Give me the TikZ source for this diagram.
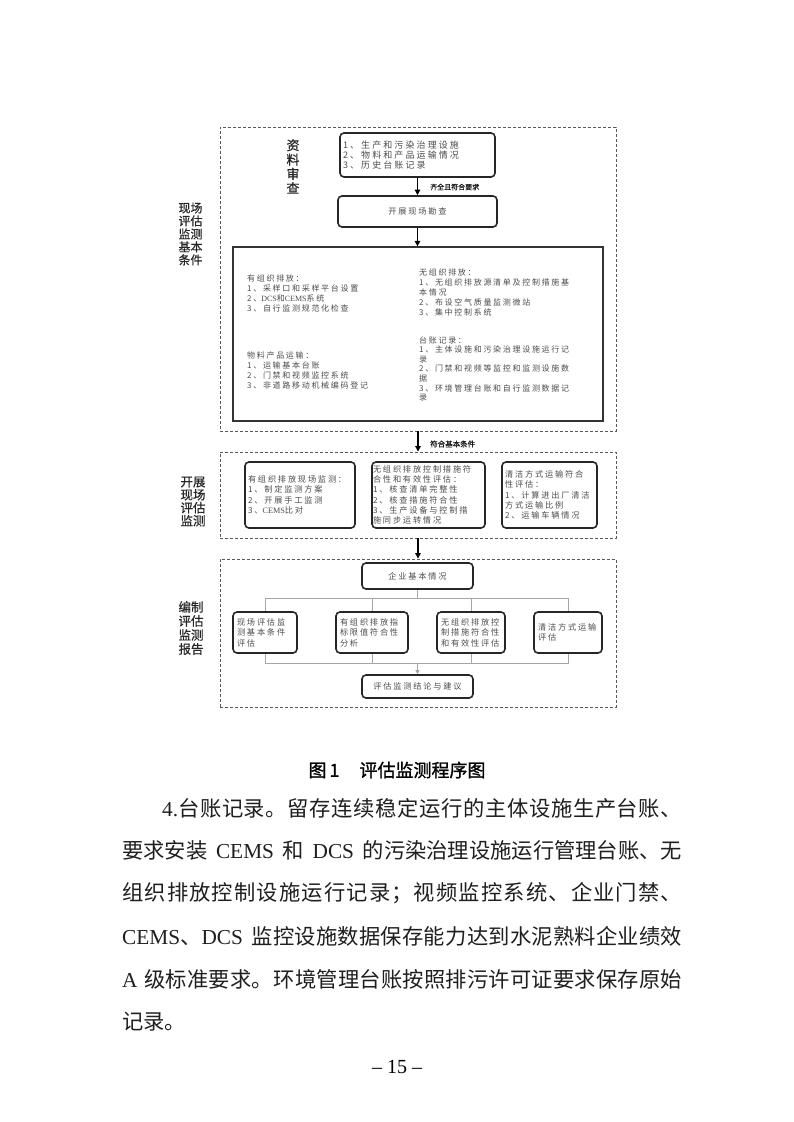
\documentclass[tikz,border=0pt]{standalone}
\usepackage{fontspec}
\setmainfont{Noto Sans CJK SC}
\newfontfamily\lat{Liberation Serif}
\newfontfamily\capfont[FakeBold=1.2]{Noto Sans CJK SC}
\newfontfamily\semib[FakeBold=0.6]{Noto Sans CJK SC}
\newfontfamily\lightb[FakeBold=0.25]{Noto Sans CJK SC}
\usetikzlibrary{arrows.meta}
\def\cjksep{}
% own character classes: 7 = CJK ideographs, 8 = CJK punctuation
\newcount\cjkc
\cjkc="4E00
\loop \XeTeXcharclass\cjkc=7 \advance\cjkc by 1 \ifnum\cjkc<"A000 \repeat
\cjkc="3000
\loop \XeTeXcharclass\cjkc=8 \advance\cjkc by 1 \ifnum\cjkc<"3040 \repeat
\cjkc="FF01
\loop \XeTeXcharclass\cjkc=8 \advance\cjkc by 1 \ifnum\cjkc<"FF5F \repeat
\XeTeXinterchartokenstate=1
\XeTeXinterchartoks 7 7 = {\cjksep}
\XeTeXinterchartoks 7 8 = {\cjksep}
\XeTeXinterchartoks 8 7 = {\cjksep}
\XeTeXinterchartoks 8 8 = {\cjksep}
\XeTeXinterchartoks 0 7 = {\cjksep}
\XeTeXinterchartoks 7 0 = {\cjksep}
\XeTeXinterchartoks 0 8 = {\cjksep}
\XeTeXinterchartoks 8 0 = {\cjksep}
\newcommand\boxfont{\fontsize{8.2}{10}\selectfont\def\cjksep{\kern1.8pt}}
\newcommand\boxfontb{\fontsize{8.2}{10.3}\selectfont\def\cjksep{\kern1.8pt}}
\newcommand\boxfontc{\fontsize{8.2}{10.5}\selectfont\def\cjksep{\kern1.8pt}}
\newcommand\topfont{\fontsize{9}{10}\selectfont\def\cjksep{\kern2.1pt}}
\newcommand\bigfont{\fontsize{8}{10}\selectfont\def\cjksep{\kern1.7pt}}
\newcommand\bodyfont{\fontsize{21.3}{24}\selectfont}
\newcommand\jline[2]{{\def\cjksep{\hskip0pt plus1fil}\makebox[#1][s]{#2}}}
\begin{document}
\begin{tikzpicture}[x=1pt,y=-1pt,
  dbox/.style={draw=black!65,line width=0.9pt,dash pattern=on 3pt off 2pt,inner sep=0,minimum width=396pt},
  rbox/.style={draw=black!85,line width=1.6pt,rounded corners=4pt,font=\boxfont,text=black!70,inner sep=0},
  txt/.style={font=\bigfont,text=black!70,align=left,inner sep=0,anchor=north west},
  side/.style={text=black!85,align=center,inner sep=0},
  arr/.style={line width=1.3pt,-{Triangle[length=5.5pt,width=5.5pt]}},
  conn/.style={draw=black!35,line width=0.9pt},
  albl/.style={inner sep=0,anchor=west,text=black!90},
  body/.style={font=\bodyfont,inner sep=0,anchor=west,text=black!88}]
\fill[white] (0,0) rectangle (793,1122);
\path[use as bounding box] (0,0) rectangle (793,1122);

% dashed section frames
\node[dbox,minimum height=304pt] (s1) at (418,279) {};
\node[dbox,minimum height=86pt] (s2) at (418,495) {};
\node[dbox,minimum height=148pt] (s3) at (418,633) {};

% side labels
\node[side,font=\fontsize{13}{14.3}\semib] (l0) at (293,166.5) {资\\料\\审\\查};
\node[side,font=\fontsize{12}{13}\semib] (l1) at (190.5,234) {现场\\评估\\监测\\基本\\条件};
\node[side,font=\fontsize{12.5}{13}\semib] (l2) at (193,501.5) {开展\\现场\\评估\\监测};
\node[side,font=\fontsize{12.5}{14}\semib] (l3) at (191,628) {编制\\评估\\监测\\报告};

% section 1
\node[rbox,minimum width=155pt,minimum height=44pt,text width=149pt,align=left,font=\topfont] (zl) at (417.5,155)
  {1、生产和污染治理设施\\2、物料和产品运输情况\\3、历史台账记录};
\node[rbox,minimum width=159pt,minimum height=31pt] (kc) at (417.5,211.5) {开展现场勘查};
\draw[arr] (zl.south) -- (zl.south |- kc.north);
\node[albl,font=\fontsize{7}{8}\lightb] (q1) at (430,187) {齐全且符合要求};
\node[draw=black!80,line width=1.3pt,minimum width=370pt,minimum height=174pt,inner sep=0] (jb) at (418,334) {};
\draw[arr] (kc.south) -- (kc.south |- jb.north);
\node[txt] (t1) at (247,274.2) {有组织排放：\\1、采样口和采样平台设置\\2、{\lat DCS}和{\lat CEMS}系统\\3、自行监测规范化检查};
\node[txt] (t2) at (419,268.2) {无组织排放：\\1、无组织排放源清单及控制措施基\\本情况\\2、布设空气质量监测微站\\3、集中控制系统};
\node[txt] (t3) at (247,351.2) {物料产品运输：\\1、运输基本台账\\2、门禁和视频监控系统\\3、非道路移动机械编码登记};
\node[txt,font=\fontsize{8}{9.6}\selectfont\def\cjksep{\kern1.7pt}] (t4) at (419,336.2) {台账记录：\\1、主体设施和污染治理设施运行记\\录\\2、门禁和视频等监控和监测设施数\\据\\3、环境管理台账和自行监测数据记\\录};

% section 1 -> 2
\draw[arr] (s1.south) -- (s2.north);
\node[albl,font=\fontsize{7.5}{8}\lightb] (q2) at (430,444) {符合基本条件};

% section 2
\node[rbox,minimum width=110pt,minimum height=66pt,text width=104pt,align=left,font=\boxfontb] (ma) at (300,495)
  {有组织排放现场监测：\\1、制定监测方案\\2、开展手工监测\\3、{\lat CEMS}比对};
\node[rbox,minimum width=113pt,minimum height=66pt,text width=111pt,align=left,font=\boxfontb] (mb) at (428.5,495)
  {无组织排放控制措施符\\合性和有效性评估：\\1、核查清单完整性\\2、核查措施符合性\\3、生产设备与控制措\\施同步运转情况};
\node[rbox,minimum width=95pt,minimum height=66pt,text width=89pt,align=left,font=\boxfontb] (mc) at (549.5,495)
  {清洁方式运输符合\\性评估：\\1、计算进出厂清洁\\方式运输比例\\2、运输车辆情况};

% section 2 -> 3
\draw[arr] (s2.south) -- (s3.north);

% section 3
\node[rbox,minimum width=111pt,minimum height=26pt] (qy) at (417.5,576) {企业基本情况};
\node[rbox,minimum width=64pt,minimum height=41pt,text width=56pt,align=left,font=\boxfontc] (b1) at (265,632.5) {现场评估监\\测基本条件\\评估};
\node[rbox,minimum width=72pt,minimum height=41pt,text width=64pt,align=left,font=\boxfontc] (b2) at (372,632.5) {有组织排放指\\标限值符合性\\分析};
\node[rbox,minimum width=68pt,minimum height=41pt,text width=60pt,align=left,font=\boxfontc] (b3) at (471,632.5) {无组织排放控\\制措施符合性\\和有效性评估};
\node[rbox,minimum width=68pt,minimum height=41pt,text width=60pt,align=left,font=\boxfontc] (b4) at (568,632.5) {清洁方式运输\\评估};
\node[rbox,minimum width=111pt,minimum height=23pt] (jl) at (417.5,686.5) {评估监测结论与建议};
\coordinate (sp) at (417.5,598);
\coordinate (mg) at (417.5,663);
\draw[conn] (qy.south) -- (sp);
\draw[conn] (sp) -| (b1.north);
\draw[conn] (sp) -| (b2.north);
\draw[conn] (sp) -| (b3.north);
\draw[conn] (sp) -| (b4.north);
\draw[conn] (b1.south) |- (mg);
\draw[conn] (b2.south) |- (mg);
\draw[conn] (b3.south) |- (mg);
\draw[conn] (b4.south) |- (mg);
\draw[conn,-{Triangle[length=4pt,width=4pt]}] (mg) -- (jl.north);

% caption and body text
\node[inner sep=0,font=\fontsize{18}{20}\capfont] (cap) at (397,770) {图\hspace{3pt}1\hspace{20pt}评估监测程序图};
\node[body] (p1) at (162,808) {\jline{520pt}{{\lat 4.}台账记录。留存连续稳定运行的主体设施生产台账、}};
\node[body] (p2) at (122,850) {\jline{560pt}{要求安装\hspace{4pt} {\lat CEMS} \hspace{4pt}和\hspace{4pt} {\lat DCS} \hspace{4pt}的污染治理设施运行管理台账、无}};
\node[body] (p3) at (122,893) {\jline{560pt}{组织排放控制设施运行记录；视频监控系统、企业门禁、}};
\node[body] (p4) at (122,936) {\jline{560pt}{{\lat CEMS}、{\lat DCS} \hspace{4pt}监控设施数据保存能力达到水泥熟料企业绩效}};
\node[body] (p5) at (122,979) {\jline{560pt}{{\lat A} \hspace{2pt}级标准要求。环境管理台账按照排污许可证要求保存原始}};
\node[body] (p6) at (122,1022) {记录。};
\node[inner sep=0,font=\fontsize{20}{22}\selectfont\lat] (pn) at (397,1067) {– 15 –};
\end{tikzpicture}
\end{document}
